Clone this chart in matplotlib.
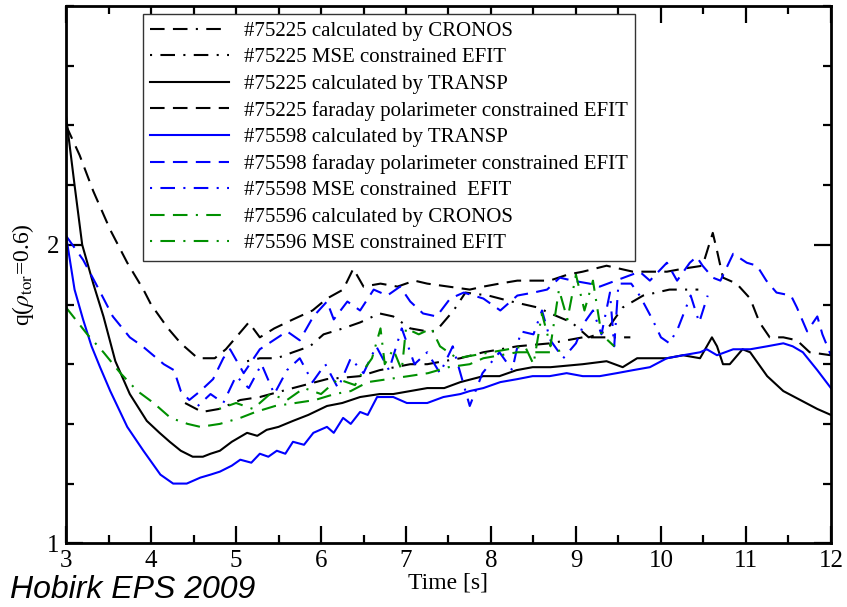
import matplotlib
matplotlib.use("Agg")
import matplotlib.pyplot as plt
from matplotlib.ticker import MultipleLocator, FixedLocator

# ---- data: time [s] / q(rho_tor=0.6) ----
t_225_transp = [3.0, 3.1, 3.19, 3.32, 3.44, 3.58, 3.75, 3.95, 4.1, 4.22, 4.35, 4.49, 4.61, 4.7, 4.81,
                4.95, 5.13, 5.25, 5.36, 5.5, 5.67, 5.85, 6.07, 6.25, 6.46, 6.69, 6.85, 7.05, 7.25, 7.45,
                7.64, 7.91, 8.1, 8.3, 8.49, 8.7, 9.08, 9.36, 9.55, 9.72, 10.07, 10.26, 10.46, 10.6,
                10.66, 10.73, 10.81, 10.96, 11.05, 11.25, 11.44, 11.64, 11.84, 12.0]
q_225_transp = [2.43, 2.2, 2.0, 1.87, 1.76, 1.61, 1.50, 1.41, 1.37, 1.34, 1.31, 1.29, 1.29, 1.30, 1.31,
                1.34, 1.37, 1.36, 1.38, 1.39, 1.41, 1.43, 1.46, 1.47, 1.49, 1.50, 1.50, 1.51, 1.52, 1.52,
                1.54, 1.56, 1.56, 1.58, 1.59, 1.59, 1.60, 1.61, 1.59, 1.62, 1.62, 1.63, 1.62, 1.69,
                1.66, 1.60, 1.60, 1.65, 1.64, 1.56, 1.51, 1.48, 1.45, 1.43]

t_225_far = [3.0, 3.16, 3.32, 3.52, 3.72, 3.91, 4.0, 4.2, 4.35, 4.55, 4.75, 4.88, 5.0, 5.15, 5.28,
             5.45, 5.67, 5.9, 6.07, 6.26, 6.38, 6.5, 6.7, 6.9, 7.1, 7.25, 7.5, 7.75, 7.91, 8.1, 8.31,
             8.5, 8.69, 8.9, 9.08, 9.36, 9.67, 10.07, 10.26, 10.49, 10.61, 10.66, 10.73, 10.89, 11.05,
             11.16, 11.28, 11.44, 11.6, 11.75, 12.0]
q_225_far = [2.40, 2.30, 2.18, 2.05, 1.94, 1.85, 1.80, 1.72, 1.67, 1.62, 1.62, 1.65, 1.69, 1.74, 1.69,
             1.72, 1.75, 1.78, 1.82, 1.85, 1.92, 1.86, 1.87, 1.86, 1.88, 1.87, 1.86, 1.85, 1.86, 1.87, 1.88,
             1.88, 1.88, 1.90, 1.91, 1.93, 1.91, 1.91, 1.92, 1.93, 2.04, 1.98, 1.89, 1.87, 1.82,
             1.74, 1.69, 1.69, 1.68, 1.64, 1.63]

t_225_cronos = [4.4, 4.6, 4.8, 5.05, 5.28, 5.67, 6.07, 6.46, 6.69, 7.05, 7.25, 7.64, 7.91, 8.31, 8.7,
                9.08, 9.36, 9.64]
q_225_cronos = [1.47, 1.44, 1.45, 1.48, 1.49, 1.52, 1.55, 1.56, 1.58, 1.60, 1.60, 1.62, 1.64, 1.66,
                1.67, 1.69, 1.69, 1.69]

t_225_mse = [5.13, 5.28, 5.48, 5.67, 5.87, 6.03, 6.26, 6.46, 6.69, 6.85, 7.05, 7.25, 7.35, 7.56,
             7.7, 7.97, 8.24, 8.55, 8.7, 8.95, 9.15, 9.35, 9.55, 9.79, 10.1, 10.44]
q_225_mse = [1.61, 1.62, 1.62, 1.64, 1.66, 1.70, 1.72, 1.74, 1.77, 1.76, 1.72, 1.71, 1.71, 1.78,
             1.84, 1.83, 1.81, 1.79, 1.77, 1.74, 1.69, 1.71, 1.79, 1.83, 1.85, 1.85]

t_598_transp = [3.0, 3.1, 3.2, 3.3, 3.4, 3.52, 3.72, 3.91, 4.11, 4.26, 4.42, 4.58, 4.7, 4.81, 4.95,
                5.05, 5.18, 5.28, 5.38, 5.48, 5.58, 5.67, 5.8, 5.91, 6.07, 6.15, 6.26, 6.35, 6.46, 6.55,
                6.66, 6.85, 7.01, 7.25, 7.44, 7.64, 7.75, 7.91, 8.11, 8.31, 8.49, 8.69, 8.89, 9.08,
                9.28, 9.48, 9.67, 9.87, 10.07, 10.26, 10.46, 10.54, 10.66, 10.85, 11.05, 11.25, 11.44,
                11.55, 11.67, 11.84, 12.0]
q_598_transp = [2.03, 1.85, 1.75, 1.66, 1.59, 1.51, 1.39, 1.31, 1.23, 1.20, 1.20, 1.22, 1.23, 1.24, 1.26,
                1.28, 1.27, 1.30, 1.29, 1.31, 1.30, 1.34, 1.33, 1.37, 1.39, 1.37, 1.42, 1.40, 1.44, 1.43,
                1.49, 1.49, 1.47, 1.47, 1.49, 1.50, 1.51, 1.52, 1.54, 1.55, 1.56, 1.56, 1.57, 1.56,
                1.56, 1.57, 1.58, 1.59, 1.62, 1.63, 1.64, 1.65, 1.63, 1.65, 1.65, 1.66, 1.67,
                1.66, 1.64, 1.58, 1.52]

t_598_far = [3.0, 3.2, 3.35, 3.55, 3.75, 3.9, 4.15, 4.27, 4.35, 4.45, 4.58, 4.73, 4.85, 4.93, 5.09,
             5.28, 5.44, 5.6, 5.75, 5.91, 6.07, 6.15, 6.31, 6.46, 6.62, 6.78, 6.93, 7.05, 7.2, 7.36,
             7.52, 7.68, 7.91, 8.11, 8.31, 8.5, 8.66, 8.81, 8.96, 9.16, 9.28, 9.75, 9.87, 10.07, 10.19,
             10.34, 10.42, 10.49, 10.61, 10.7, 10.85, 11.01, 11.13, 11.24, 11.36, 11.53, 11.6, 11.72,
             11.84, 11.9, 12.0]
q_598_far = [2.03, 1.95, 1.87, 1.76, 1.69, 1.66, 1.60, 1.58, 1.51, 1.48, 1.51, 1.55, 1.62, 1.65, 1.57,
             1.65, 1.68, 1.71, 1.68, 1.76, 1.81, 1.75, 1.81, 1.78, 1.85, 1.83, 1.86, 1.81, 1.77, 1.76,
             1.82, 1.84, 1.82, 1.78, 1.83, 1.84, 1.85, 1.89, 1.88, 1.87, 1.86, 1.91, 1.88, 1.94, 1.88,
             1.94, 1.96, 1.93, 1.89, 1.88, 1.97, 1.94, 1.93, 1.88, 1.84, 1.83, 1.79, 1.71,
             1.76, 1.70, 1.63]

t_598_mse = [4.55, 4.7, 4.85, 5.0, 5.15, 5.3, 5.45, 5.6, 5.75, 5.9, 6.05, 6.2, 6.35, 6.5, 6.65, 6.8,
             6.95, 7.1, 7.25, 7.4, 7.55, 7.75, 7.9, 8.1, 8.25, 8.35, 8.5, 8.6, 8.7, 8.85, 9.0, 9.1,
             9.2, 9.3, 9.4, 9.45, 9.5, 9.65, 9.75, 9.9, 10.0, 10.1, 10.2, 10.35, 10.45, 10.55]
q_598_mse = [1.46, 1.50, 1.47, 1.56, 1.52, 1.60, 1.50, 1.58, 1.62, 1.54, 1.60, 1.52, 1.62, 1.57, 1.66, 1.58,
             1.72, 1.60, 1.64, 1.57, 1.66, 1.46, 1.57, 1.64, 1.58, 1.71, 1.70, 1.78, 1.68, 1.62, 1.67, 1.74,
             1.78, 1.70, 1.84, 1.66, 1.87, 1.87, 1.83, 1.75, 1.69, 1.67, 1.72, 1.83, 1.74, 1.83]

t_596_cronos = [3.0, 3.25, 3.44, 3.64, 3.84, 4.03, 4.23, 4.43, 4.58, 4.81, 5.05, 5.23, 5.46, 5.7,
                5.93, 6.16, 6.35, 6.55, 6.79, 7.03, 7.26, 7.5, 7.75, 7.91, 8.11, 8.31, 8.5, 8.7, 8.9]
q_596_cronos = [1.79, 1.70, 1.64, 1.57, 1.51, 1.47, 1.42, 1.40, 1.39, 1.40, 1.42, 1.44, 1.46, 1.47,
                1.48, 1.50, 1.51, 1.54, 1.55, 1.56, 1.57, 1.59, 1.60, 1.62, 1.63, 1.64, 1.64, 1.64, 1.65]

t_596_mse = [4.8, 5.0, 5.2, 5.4, 5.6, 5.8, 6.0, 6.2, 6.4, 6.5, 6.6, 6.7, 6.75, 6.85, 6.95, 7.0, 7.15,
             7.3, 7.4, 7.5, 7.6, 7.8, 8.0, 8.2, 8.4, 8.5, 8.6, 8.7, 8.8, 8.9, 9.0, 9.1, 9.2, 9.3, 9.45]
q_596_mse = [1.45, 1.47, 1.45, 1.50, 1.48, 1.52, 1.50, 1.55, 1.53, 1.58, 1.62, 1.72, 1.60, 1.65, 1.58, 1.72, 1.70,
             1.72, 1.66, 1.64, 1.62, 1.63, 1.64, 1.65, 1.66, 1.60, 1.77, 1.66, 1.85, 1.75, 1.90, 1.78, 1.88, 1.70, 1.66]

labels = ["#75225 calculated by CRONOS",
          "#75225 MSE constrained EFIT",
          "#75225 calculated by TRANSP",
          "#75225 faraday polarimeter constrained EFIT",
          "#75598 calculated by TRANSP",
          "#75598 faraday polarimeter constrained EFIT",
          "#75598 MSE constrained  EFIT",
          "#75596 calculated by CRONOS",
          "#75596 MSE constrained EFIT"]

plt.rcParams['font.family'] = ['Liberation Serif', 'DejaVu Serif']
plt.rcParams['mathtext.fontset'] = 'stix'

BLUE = '#0000ff'
GREEN = '#009000'
ls_cronos = (0, (7, 4, 7, 4, 1, 4))
ls_mse = (0, (1, 4, 7, 4))
ls_dash = (0, (7, 4))
lw = 1.5

fig = plt.figure(figsize=(8.47, 6.07), dpi=100)
ax = fig.add_axes([0.078, 0.105, 0.903, 0.885])

series = [
    (t_225_cronos, q_225_cronos, 'black', ls_cronos),
    (t_225_mse, q_225_mse, 'black', ls_mse),
    (t_225_transp, q_225_transp, 'black', '-'),
    (t_225_far, q_225_far, 'black', ls_dash),
    (t_598_transp, q_598_transp, BLUE, '-'),
    (t_598_far, q_598_far, BLUE, ls_dash),
    (t_598_mse, q_598_mse, BLUE, ls_mse),
    (t_596_cronos, q_596_cronos, GREEN, ls_cronos),
    (t_596_mse, q_596_mse, GREEN, ls_mse),
]
for (t, q, c, ls), lab in zip(series, labels):
    ax.plot(t, q, color=c, linestyle=ls, linewidth=lw, label=lab)

ax.set_xlim(3, 12)
ax.set_ylim(1, 2.8)
ax.xaxis.set_major_locator(MultipleLocator(1))
ax.xaxis.set_minor_locator(MultipleLocator(0.5))
ax.yaxis.set_major_locator(FixedLocator([1, 2]))
ax.yaxis.set_minor_locator(MultipleLocator(0.2))
ax.tick_params(which='both', direction='in', top=True, right=True, width=1.6, labelsize=18)
ax.tick_params(which='major', length=12, pad=5)
ax.tick_params(which='minor', length=6)
for s in ax.spines.values():
    s.set_linewidth(2)

ax.set_xlabel('Time [s]', fontsize=17, labelpad=0)
ax.set_ylabel(r'q($\rho_{\rm tor}$=0.6)', fontsize=17, labelpad=8)

leg = ax.legend(loc='upper left', bbox_to_anchor=(0.1007, 0.985), borderaxespad=0,
                fontsize=15, handlelength=3.75, handletextpad=0.75, labelspacing=0.33,
                borderpad=0.35, fancybox=False, framealpha=1, edgecolor='#333333')
leg.get_frame().set_linewidth(1.0)

fig.text(0.012, 0.003, 'Hobirk EPS 2009', fontsize=23, style='italic',
         family='Liberation Sans', va='bottom', ha='left')

fig.savefig('out.png', dpi=100)
